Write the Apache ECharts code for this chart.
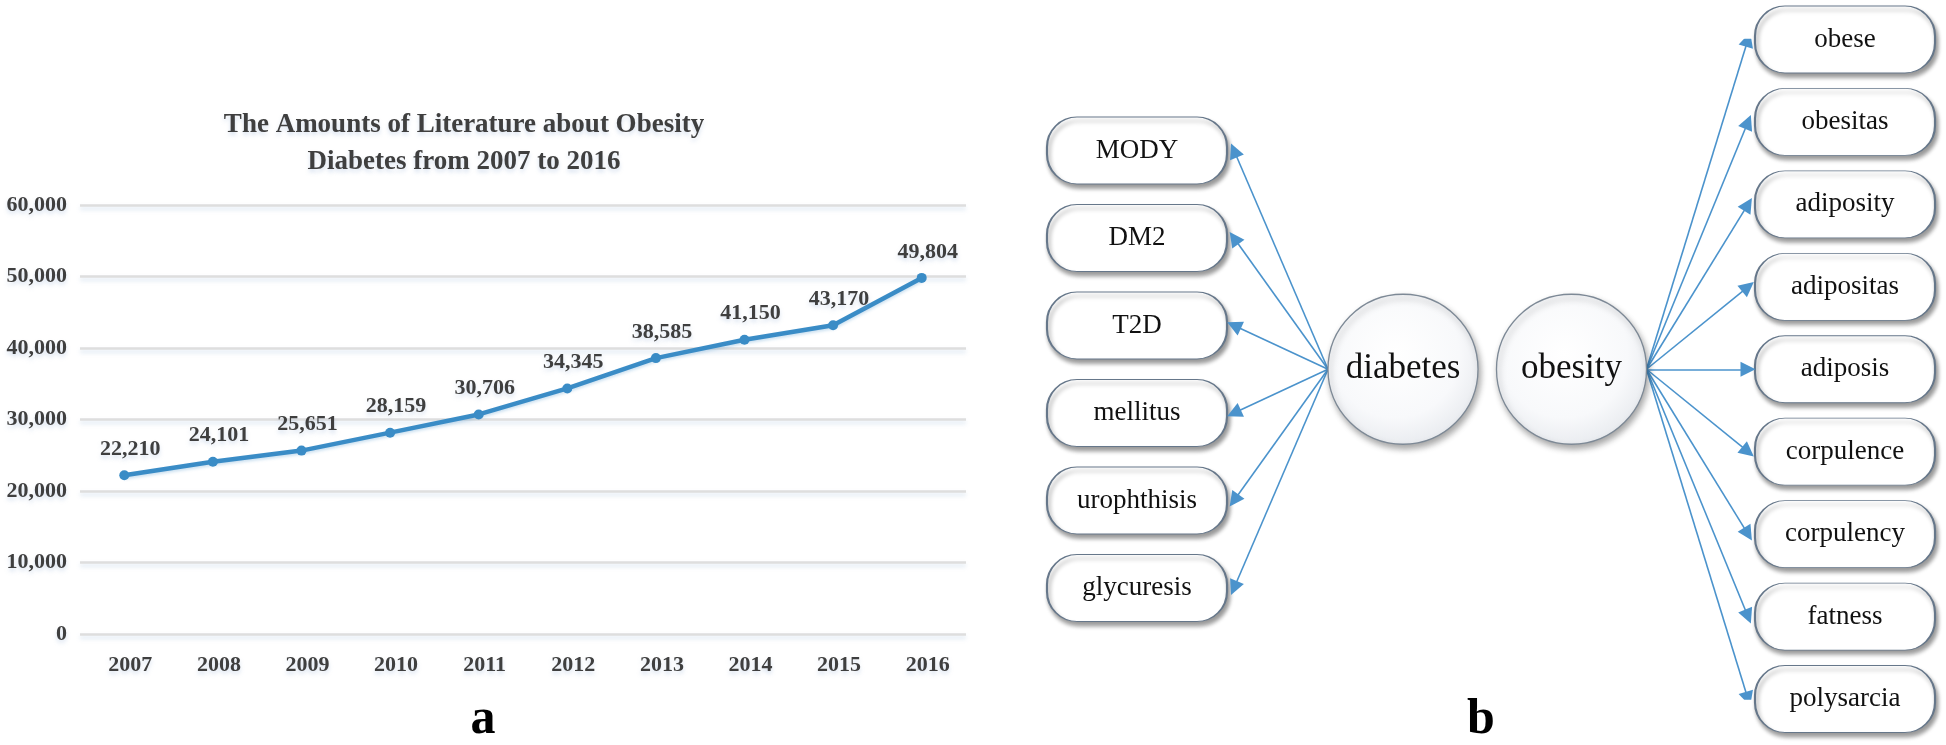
<!DOCTYPE html>
<html><head><meta charset="utf-8">
<script src="https://cdn.jsdelivr.net/npm/echarts@6/dist/echarts.min.js"></script>
<style>html,body{margin:0;padding:0;background:#fff}#c{width:1946px;height:745px}</style>
</head><body><div id="c"></div>
<script>
// ---- data ----
const years = ['2007','2008','2009','2010','2011','2012','2013','2014','2015','2016'];
const counts = [22210, 24101, 25651, 28159, 30706, 34345, 38585, 41150, 43170, 49804];
const yMin = 0, yMax = 60000, yStep = 10000;
const titleLines = ['The Amounts of Literature about Obesity', 'Diabetes from 2007 to 2016'];
const panelLabels = ['a', 'b'];
const hubs = ['diabetes', 'obesity'];
const diabetesTerms = ['MODY', 'DM2', 'T2D', 'mellitus', 'urophthisis', 'glycuresis'];
const obesityTerms = ['obese', 'obesitas', 'adiposity', 'adipositas', 'adiposis', 'corpulence', 'corpulency', 'fatness', 'polysarcia'];

// ---- layout (diagram) ----
const FONT = '"Liberation Serif", "Times New Roman", serif';
const TXT = '#3f3f3f';
const G2 = {left: 1137, right: 101, top: 39.5, bottom: 46};
const g2w = 1946 - G2.left - G2.right;
const g2rows = obesityTerms.length - 1;
const rowPx = (745 - G2.top - G2.bottom) / g2rows;
const boxW = 180, boxH = 67, hubR = 75;
const hubRow = g2rows / 2;
const colX = {left: 0, diabetes: 266 / g2w, obesity: 434.5 / g2w, right: 1};
const leftStep = 87.5 / rowPx;
const leftRows = diabetesTerms.map((_, i) => hubRow + (i - (diabetesTerms.length - 1) / 2) * leftStep);
const rightRows = obesityTerms.map((_, i) => i);

const boxPath = 'path://M30,0 H150 A30,30 0 0 1 180,30 V37 A30,30 0 0 1 150,67 H30 A30,30 0 0 1 0,37 V30 A30,30 0 0 1 30,0 Z';

const boxData = diabetesTerms.map((t, i) => ({name: t, value: [colX.left, leftRows[i]]}))
  .concat(obesityTerms.map((t, i) => ({name: t, value: [colX.right, rightRows[i]]})));
const hubData = [{name: hubs[0], value: [colX.diabetes, hubRow]}, {name: hubs[1], value: [colX.obesity, hubRow]}];

const inset = 7 / g2w;
const arrowData = diabetesTerms.map((t, i) => ({coords: [
    [colX.diabetes - hubR / g2w, hubRow],
    [colX.left + boxW / 2 / g2w + inset, leftRows[i]]]}))
  .concat(obesityTerms.map((t, i) => ({coords: [
    [colX.obesity + hubR / g2w, hubRow],
    [colX.right - boxW / 2 / g2w - inset, rightRows[i]]]})));

const glow = {textShadowColor: 'rgba(140,170,210,0.35)', textShadowBlur: 4, textShadowOffsetY: 3};

const chart = echarts.init(document.getElementById('c'));
chart.setOption({
  animation: false,
  backgroundColor: '#fff',
  title: [
    {text: titleLines.join('\n'), left: 459, top: 102, textAlign: 'center',
     textStyle: Object.assign({fontFamily: FONT, fontWeight: 'bold', fontSize: 27, lineHeight: 37, color: TXT}, glow)},
    {text: panelLabels[0], left: 478, top: 690, textAlign: 'center',
     textStyle: {fontFamily: FONT, fontWeight: 'bold', fontSize: 50, lineHeight: 50, color: '#000'}},
    {text: panelLabels[1], left: 1476, top: 690, textAlign: 'center',
     textStyle: {fontFamily: FONT, fontWeight: 'bold', fontSize: 50, lineHeight: 50, color: '#000'}}
  ],
  grid: [
    {left: 80, right: 980, top: 205, bottom: 111},
    {left: G2.left, right: G2.right, top: G2.top, bottom: G2.bottom}
  ],
  xAxis: [
    {type: 'category', data: years, gridIndex: 0, boundaryGap: true,
     axisLine: {show: false}, axisTick: {show: false},
     axisLabel: Object.assign({margin: 20, padding: [0, 0, 0, 12], fontFamily: FONT, fontWeight: 'bold', fontSize: 22, color: TXT}, glow)},
    {type: 'value', gridIndex: 1, min: 0, max: 1, show: false}
  ],
  yAxis: [
    {type: 'value', gridIndex: 0, min: yMin, max: yMax, interval: yStep,
     axisLine: {show: false}, axisTick: {show: false},
     axisLabel: Object.assign({margin: 13, fontFamily: FONT, fontWeight: 'bold', fontSize: 22, color: TXT,
       formatter: v => v.toLocaleString('en-US')}, glow),
     splitLine: {lineStyle: {color: '#dedede', width: 2.5, shadowColor: 'rgba(150,180,215,0.35)', shadowBlur: 4, shadowOffsetY: 3}}},
    {type: 'value', gridIndex: 1, min: 0, max: g2rows, inverse: true, show: false}
  ],
  series: [
    {type: 'line', xAxisIndex: 0, yAxisIndex: 0, data: counts,
     symbol: 'circle', symbolSize: 10,
     lineStyle: {color: '#3a8cc6', width: 4.5, shadowColor: 'rgba(58,140,198,0.25)', shadowBlur: 3, shadowOffsetY: 2},
     itemStyle: {color: '#3a8cc6'},
     label: Object.assign({show: true, position: 'top', distance: 10, offset: [6, 0],
       fontFamily: FONT, fontWeight: 'bold', fontSize: 22, color: TXT,
       formatter: p => p.value.toLocaleString('en-US')}, glow)},
    {type: 'lines', coordinateSystem: 'cartesian2d', xAxisIndex: 1, yAxisIndex: 1, z: 4,
     data: arrowData, symbol: ['none', 'triangle'], symbolSize: [0, 15],
     lineStyle: {color: '#4b93cc', width: 1.6, opacity: 1}},
    {type: 'scatter', xAxisIndex: 1, yAxisIndex: 1, clip: false, z: 3,
     data: boxData, symbol: boxPath, symbolSize: [boxW, boxH],
     itemStyle: {color: '#fff', borderColor: '#66778a', borderWidth: 1.3, opacity: 1,
       shadowColor: 'rgba(0,0,0,0.4)', shadowBlur: 4, shadowOffsetX: 2, shadowOffsetY: 4},
     label: {show: true, position: 'inside', formatter: p => p.name, fontFamily: FONT, fontSize: 27, color: '#111'}},
    {type: 'scatter', xAxisIndex: 1, yAxisIndex: 1, clip: false, z: 5,
     data: hubData, symbol: 'circle', symbolSize: hubR * 2,
     itemStyle: {color: {type: 'radial', x: 0.45, y: 0.4, r: 0.7, colorStops: [{offset: 0, color: '#ffffff'}, {offset: 0.6, color: '#f8f9fb'}, {offset: 1, color: '#e2e5ea'}]},
       borderColor: '#7d8996', borderWidth: 1.3, opacity: 1,
       shadowColor: 'rgba(0,0,0,0.35)', shadowBlur: 6, shadowOffsetX: 2, shadowOffsetY: 4},
     label: {show: true, position: 'inside', formatter: p => p.name, fontFamily: FONT, fontSize: 35, color: '#111'}}
  ]
});
</script></body></html>
